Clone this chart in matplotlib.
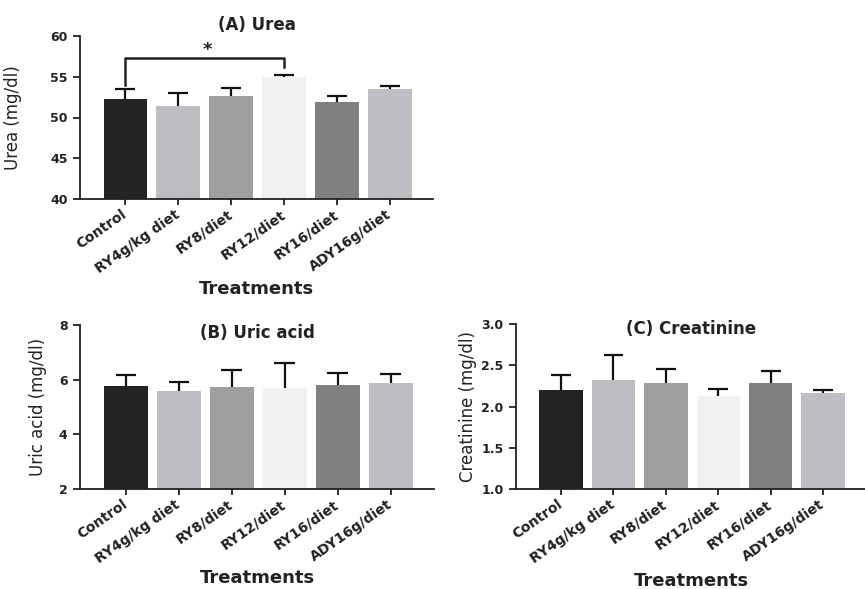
import matplotlib
matplotlib.use("Agg")
import matplotlib.pyplot as plt
import numpy as np

plt.rcParams['font.family'] = ['DejaVu Sans']

treatments = ["Control", "RY4g/kg diet", "RY8/diet", "RY12/diet", "RY16/diet", "ADY16g/diet"]
bar_colors = ["#232323", "#bcbcc1", "#9f9f9f", "#f1f1f1", "#808080", "#bebec2"]

urea_mean = [52.3, 51.4, 52.6, 55.0, 51.9, 53.5]
urea_err = [1.2, 1.6, 1.0, 0.25, 0.7, 0.4]

uric_mean = [5.77, 5.59, 5.72, 5.68, 5.82, 5.89]
uric_err = [0.41, 0.33, 0.65, 0.94, 0.41, 0.32]

creat_mean = [2.20, 2.32, 2.29, 2.13, 2.29, 2.16]
creat_err = [0.18, 0.30, 0.16, 0.08, 0.14, 0.04]

# significance bracket Control vs RY12 (urea)
sig_y = 57.3
sig_left_end = 54.0
sig_right_end = 56.2
sig_star_y = 58.3

DARK = '#222222'
fig = plt.figure(figsize=(8.65, 5.89), dpi=100)
H = 589.0
W = 865.0


def make_axes(l, r, t, b):
    return fig.add_axes([l / W, 1 - b / H, (r - l) / W, (b - t) / H])


def draw_panel(ax, means, errs, ylim, yticks, yticklabels, ylabel, title,
               title_y, ylabel_x, xlabel_y):
    x = np.arange(len(treatments))
    ax.bar(x, means, width=0.83, color=bar_colors, zorder=2)
    # upper error bars only
    tops = np.array(means) + np.array(errs)
    ax.vlines(x, means, tops, color='#111111', lw=1.6, zorder=3)
    ax.hlines(tops, x - 0.19, x + 0.19, color='#111111', lw=1.6, zorder=3)
    ax.set_xlim(-0.86, 5.82)
    ax.set_ylim(*ylim)
    ax.set_yticks(yticks)
    ax.set_yticklabels(yticklabels, fontsize=9, fontweight='bold', color=DARK)
    ax.set_xticks(x)
    ax.set_xticklabels(treatments, rotation=35, ha='right', va='center',
                       rotation_mode='anchor', fontsize=10, fontweight='bold', color=DARK)
    ax.spines['top'].set_visible(False)
    ax.spines['right'].set_visible(False)
    for s in ('left', 'bottom'):
        ax.spines[s].set_linewidth(1.3)
        ax.spines[s].set_color(DARK)
    ax.tick_params(axis='y', direction='out', length=5, width=1.3, color=DARK, pad=4)
    ax.tick_params(axis='x', direction='out', length=4, width=1.3, color=DARK, pad=6)
    ax.set_ylabel(ylabel, fontsize=12, color=DARK)
    ax.yaxis.set_label_coords(ylabel_x, 0.5)
    ax.text(0.5, xlabel_y, "Treatments", transform=ax.transAxes, ha='center', va='center',
            fontsize=13, fontweight='bold', color=DARK)
    ax.text(0.5, title_y, title, transform=ax.transAxes, ha='center', va='center',
            fontsize=12, fontweight='bold', color=DARK)


ax_a = make_axes(80, 433, 36, 199)
draw_panel(ax_a, urea_mean, urea_err, (40, 60), [40, 45, 50, 55, 60],
           ["40", "45", "50", "55", "60"], "Urea (mg/dl)", "(A) Urea",
           1.0675, -0.164, -0.552)
ax_a.plot([0, 0, 3, 3], [sig_left_end, sig_y, sig_y, sig_right_end],
          color=DARK, lw=1.8, clip_on=False, zorder=4)
ax_a.text(1.55, sig_star_y, "*", ha='center', va='center', fontsize=13,
          fontweight='bold', color=DARK)

ax_b = make_axes(80, 434, 325, 489)
draw_panel(ax_b, uric_mean, uric_err, (2, 8), [2, 4, 6, 8],
           ["2", "4", "6", "8"], "Uric acid (mg/dl)", "(B) Uric acid",
           0.951, -0.093, -0.543)

ax_c = make_axes(516, 866, 324, 489)
draw_panel(ax_c, creat_mean, creat_err, (1.0, 3.0), [1.0, 1.5, 2.0, 2.5, 3.0],
           ["1.0", "1.5", "2.0", "2.5", "3.0"], "Creatinine (mg/dl)", "(C) Creatinine",
           0.97, -0.112, -0.558)

fig.savefig("out.png", dpi=100)
